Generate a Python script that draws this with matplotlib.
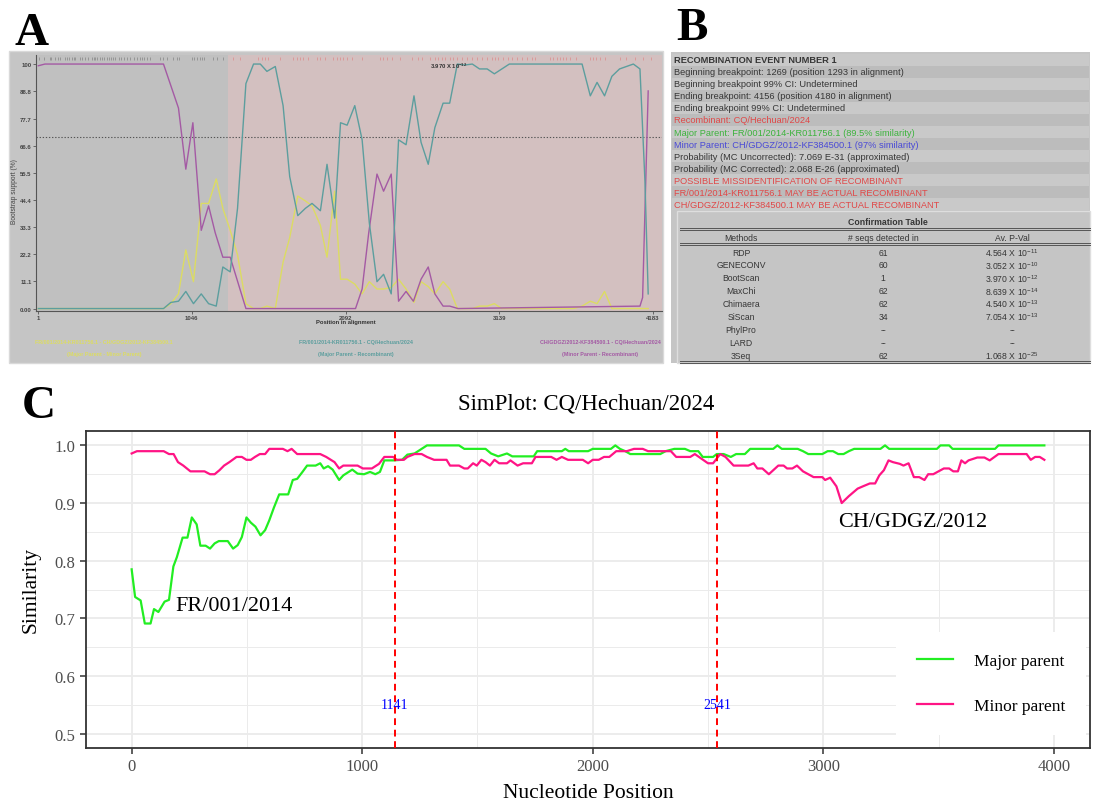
import matplotlib
matplotlib.use('Agg')
import matplotlib.pyplot as plt
from matplotlib.patches import Rectangle
from matplotlib.ticker import MultipleLocator

W, H, DPI = 1093, 803, 100
SERIF = 'Liberation Serif'
SANS = 'Liberation Sans'
plt.rcParams['font.family'] = [SANS, 'DejaVu Sans']

# ── panel A: RDP bootscan ────────────────────────────────────────────────────
A_XTICKS = [1, 1046, 2092, 3139, 4183]
A_YTICKS = [0, 11.1, 22.2, 33.3, 44.4, 55.5, 66.6, 77.7, 88.8, 100]
A_YLABELS = ['0.00', '11.1', '22.2', '33.3', '44.4', '55.5', '66.6', '77.7', '88.8', '100']
A_EVENT_START = 1293
A_CUTOFF = 70

mp_pos = [1, 46, 853, 955, 1005, 1053, 1110, 1160, 1205, 1257,
          1307, 1414, 2160, 2205, 2250, 2306, 2351, 2403, 2453, 2504,
          2554, 2606, 2655, 2700, 2756, 2801, 2858, 4096, 4114, 4152]
mp_boot = [99.3, 100, 100, 82, 57, 76, 32, 42, 31, 21,
           21, 0, 0, 8, 31, 55, 48, 55, 3, 7,
           3, 12, 17, 6, 1, 1, 0, 1, 4.5, 89]

maj_pos = [1, 853, 903, 955, 1005, 1057, 1110, 1160, 1212, 1257,
           1307, 1357, 1414, 1466, 1512, 1557, 1614, 1667, 1712, 1767,
           1819, 1864, 1921, 1966, 2018, 2058, 2103, 2155, 2205, 2254,
           2306, 2351, 2403, 2453, 2504, 2558, 2606, 2655, 2700, 2756,
           2801, 2853, 2903, 2955, 3004, 3056, 3105, 3207, 3702, 3758,
           3804, 3855, 3905, 3957, 4051, 4096, 4130, 4152]
maj_boot = [0, 0, 2.5, 3, 7, 2, 6, 2, 1, 17,
            15, 41, 92, 100, 100, 97, 99, 83, 54, 38,
            41, 43, 40, 59, 37, 76, 75, 83, 69, 35,
            11, 14, 6, 69, 67, 87, 68, 59, 74, 84,
            84, 100, 99.6, 100, 98, 98, 96, 100, 100, 87,
            92.5, 87, 95, 98, 100, 98, 52, 6]

mm_pos = [1, 853, 903, 955, 1005, 1057, 1110, 1160, 1212, 1257,
          1307, 1357, 1414, 1466, 1512, 1557, 1614, 1667, 1712, 1767,
          1819, 1864, 1921, 1966, 2018, 2058, 2103, 2155, 2205, 2254,
          2306, 2351, 2403, 2453, 2504, 2558, 2606, 2655, 2700, 2756,
          2801, 2853, 2955, 3004, 3056, 3105, 3155, 3646, 3702, 3758,
          3804, 3855, 3905, 4152]
mm_boot = [0, 0, 2, 6, 24, 11, 43, 43, 53, 41,
           32, 22, 2, 0, 0, 1, 0, 19, 29, 46,
           44, 42, 34, 21, 48, 12, 12, 10, 6, 11,
           8, 8, 8.6, 12, 8, 2.5, 11, 9, 6, 11,
           8, 0, 0, 1, 1, 2, 0, 0, 1, 3,
           2, 7, 0, 0]

# informative sites marked along the top of the plot
sites_outside = [3, 37, 78, 87, 117, 132, 151, 185, 196, 207, 230, 241, 253, 287, 298,
                 321, 336, 366, 377, 389, 400, 423, 434, 450, 468, 479, 497, 509, 525,
                 547, 563, 581, 604, 627, 649, 672, 695, 706, 717, 740, 763, 831, 853,
                 876, 921, 944, 960, 1046, 1062, 1080, 1103, 1114, 1130, 1193, 1216, 1261]
sites_inside = [1329, 1374, 1499, 1521, 1544, 1567, 1646, 1737, 1760, 1782, 1805, 1839,
                1895, 1918, 1952, 2009, 2032, 2054, 2077, 2100, 2133, 2201, 2327, 2349,
                2372, 2406, 2463, 2542, 2587, 2610, 2667, 2701, 2723, 2746, 2769, 2803,
                2825, 2848, 2882, 2916, 2950, 2984, 3018, 3052, 3086, 3109, 3131, 3165,
                3199, 3222, 3256, 3290, 3324, 3358, 3381, 3483, 3505, 3528, 3551, 3573,
                3596, 3619, 3664, 3755, 3777, 3800, 3823, 3857, 3959, 4004, 4061, 4117, 4174]

# ── panel B: event report ────────────────────────────────────────────────────
b_lines = ['RECOMBINATION EVENT NUMBER 1',
           'Beginning breakpoint: 1269 (position 1293 in alignment)',
           'Beginning breakpoint 99% CI: Undetermined',
           'Ending breakpoint: 4156 (position 4180 in alignment)',
           'Ending breakpoint 99% CI: Undetermined',
           'Recombinant: CQ/Hechuan/2024',
           'Major Parent: FR/001/2014-KR011756.1 (89.5% similarity)',
           'Minor Parent: CH/GDGZ/2012-KF384500.1 (97% similarity)',
           'Probability (MC Uncorrected): 7.069 E-31 (approximated)',
           'Probability (MC Corrected): 2.068 E-26 (approximated)',
           'POSSIBLE MISSIDENTIFICATION OF RECOMBINANT',
           'FR/001/2014-KR011756.1 MAY BE ACTUAL RECOMBINANT',
           'CH/GDGZ/2012-KF384500.1 MAY BE ACTUAL RECOMBINANT']
b_kinds = ['head', 'plain', 'plain', 'plain', 'plain', 'red', 'major', 'minor',
           'plain', 'plain', 'red', 'red', 'red']

methods = ['RDP', 'GENECONV', 'BootScan', 'MaxChi', 'Chimaera', 'SiScan', 'PhylPro', 'LARD', '3Seq']
n_seqs = ['61', '60', '1', '62', '62', '34', '--', '--', '62']
p_mant = ['4.564', '3.052', '3.970', '8.639', '4.540', '7.054', None, None, '1.068']
p_exp = ['-11', '-10', '-12', '-14', '-13', '-13', None, None, '-25']

# ── panel C: SimPlot ─────────────────────────────────────────────────────────
major_pos = [0, 15, 39, 57, 82, 97, 116, 143, 162, 181,
             196, 221, 242, 261, 282, 298, 321, 340, 360, 378,
             417, 440, 460, 478, 498, 517, 537, 559, 579, 597,
             617, 640, 679, 699, 718, 741, 761, 798, 818, 833,
             852, 872, 900, 918, 957, 980, 1008, 1034, 1057, 1077,
             1096, 1134, 1173, 1196, 1227, 1281, 1420, 1443, 1535, 1559,
             1590, 1628, 1651, 1744, 1759, 1866, 1881, 1896, 1980, 2000,
             2079, 2098, 2118, 2141, 2163, 2293, 2316, 2354, 2400, 2423,
             2458, 2477, 2522, 2538, 2568, 2599, 2622, 2660, 2683, 2783,
             2801, 2820, 2889, 2912, 2935, 2996, 3019, 3042, 3065, 3088,
             3111, 3134, 3248, 3268, 3286, 3493, 3508, 3546, 3561, 3745,
             3760, 3959]
major_sim = [0.785, 0.737, 0.731, 0.691, 0.691, 0.716, 0.711, 0.729, 0.732, 0.790,
             0.806, 0.840, 0.840, 0.875, 0.863, 0.826, 0.826, 0.821, 0.830, 0.834,
             0.834, 0.821, 0.827, 0.841, 0.875, 0.866, 0.859, 0.844, 0.853, 0.870,
             0.892, 0.915, 0.915, 0.940, 0.942, 0.954, 0.965, 0.965, 0.969, 0.960,
             0.964, 0.958, 0.940, 0.948, 0.958, 0.951, 0.950, 0.954, 0.950, 0.954,
             0.974, 0.974, 0.975, 0.984, 0.986, 1.000, 1.000, 0.994, 0.994, 0.986,
             0.981, 0.986, 0.981, 0.981, 0.990, 0.990, 0.994, 0.990, 0.990, 0.994,
             0.994, 1.000, 0.994, 0.990, 0.985, 0.985, 0.990, 0.994, 0.994, 0.990,
             0.990, 0.980, 0.980, 0.985, 0.985, 0.980, 0.985, 0.985, 0.994, 0.994,
             1.000, 0.994, 0.994, 0.990, 0.985, 0.985, 0.990, 0.990, 0.985, 0.985,
             0.990, 0.994, 0.994, 1.000, 0.994, 0.994, 1.000, 1.000, 0.994, 0.994,
             1.000, 1.000]

minor_pos = [0, 23, 139, 162, 182, 201, 224, 255, 316, 340,
             360, 381, 401, 424, 455, 478, 498, 517, 535, 556,
             579, 597, 656, 676, 694, 718, 818, 844, 880, 900,
             918, 980, 1003, 1042, 1073, 1096, 1134, 1150, 1181, 1196,
             1227, 1258, 1281, 1312, 1366, 1381, 1420, 1443, 1458, 1481,
             1497, 1517, 1535, 1554, 1574, 1594, 1628, 1643, 1674, 1698,
             1736, 1752, 1820, 1843, 1866, 1893, 1957, 1980, 2000, 2026,
             2049, 2072, 2102, 2148, 2179, 2217, 2240, 2339, 2362, 2423,
             2443, 2500, 2522, 2553, 2576, 2611, 2675, 2698, 2714, 2736,
             2764, 2805, 2828, 2843, 2866, 2886, 2912, 2935, 2958, 2996,
             3008, 3030, 3057, 3080, 3111, 3149, 3172, 3202, 3225, 3243,
             3263, 3283, 3302, 3332, 3348, 3370, 3393, 3416, 3439, 3455,
             3477, 3500, 3523, 3546, 3564, 3584, 3599, 3615, 3630, 3668,
             3699, 3722, 3760, 3882, 3900, 3919, 3939, 3959]
minor_sim = [0.986, 0.990, 0.990, 0.985, 0.985, 0.971, 0.965, 0.955, 0.955, 0.950,
             0.950, 0.957, 0.965, 0.971, 0.980, 0.980, 0.975, 0.975, 0.980, 0.985,
             0.985, 0.994, 0.994, 0.990, 0.994, 0.985, 0.985, 0.980, 0.971, 0.960,
             0.965, 0.965, 0.960, 0.960, 0.968, 0.980, 0.980, 0.975, 0.975, 0.980,
             0.985, 0.985, 0.980, 0.975, 0.975, 0.965, 0.965, 0.960, 0.960, 0.969,
             0.965, 0.975, 0.971, 0.965, 0.975, 0.969, 0.969, 0.974, 0.965, 0.969,
             0.969, 0.980, 0.980, 0.975, 0.980, 0.975, 0.975, 0.969, 0.975, 0.975,
             0.980, 0.980, 0.990, 0.990, 0.994, 0.994, 0.990, 0.990, 0.980, 0.980,
             0.985, 0.969, 0.969, 0.985, 0.980, 0.965, 0.965, 0.969, 0.960, 0.960,
             0.950, 0.965, 0.965, 0.960, 0.960, 0.965, 0.955, 0.950, 0.945, 0.945,
             0.940, 0.944, 0.929, 0.900, 0.912, 0.925, 0.929, 0.934, 0.934, 0.948,
             0.957, 0.974, 0.971, 0.968, 0.965, 0.969, 0.945, 0.945, 0.940, 0.950,
             0.950, 0.955, 0.960, 0.960, 0.955, 0.955, 0.974, 0.969, 0.974, 0.979,
             0.979, 0.974, 0.985, 0.985, 0.975, 0.980, 0.980, 0.975]

breakpoints = [1141, 2541]

# ── palette ──────────────────────────────────────────────────────────────────
A_PURPLE = '#a45aa4'
A_TEAL = '#5c9e9e'
A_YELLOW = '#dcdc62'
B_DARK = '#363636'
B_COLORS = {'head': B_DARK, 'plain': B_DARK, 'red': '#e04848',
            'major': '#3db33d', 'minor': '#4a4ad6'}
C_GREEN = '#22ee22'
C_PINK = '#ff1485'


def frac(x0, y0, x1, y1):
    """pixel box (top-left origin) -> figure fraction rect"""
    return [x0 / W, 1 - y1 / H, (x1 - x0) / W, (y1 - y0) / H]


fig = plt.figure(figsize=(W / DPI, H / DPI), dpi=DPI, facecolor='white')
bg = fig.add_axes([0, 0, 1, 1], zorder=-10)
bg.set_xlim(0, W)
bg.set_ylim(H, 0)
bg.axis('off')

for letter, x, y in [('A', 32, 45), ('B', 692, 40), ('C', 39, 418)]:
    bg.text(x, y, letter, fontsize=34, fontweight='bold', family=SERIF,
            ha='center', va='baseline')

# ── A ────────────────────────────────────────────────────────────────────────
bg.add_patch(Rectangle((9, 52), 654, 312, facecolor='#c5c5c5', edgecolor='#d9d9d9', lw=1))

axA = fig.add_axes(frac(36, 56, 662, 312))
axA.set_facecolor('#c0c0c0')
axA.set_xlim(-14.7, 4246)
axA.set_ylim(-1.0, 103.7)
axA.axvspan(A_EVENT_START, 4246, color='#d3c0c0', lw=0, zorder=0)
axA.axhline(A_CUTOFF, color='#555555', lw=0.8, ls=(0, (1.2, 1.6)), zorder=1)
axA.vlines(sites_outside, 101.6, 102.9, color='#858585', lw=0.5, zorder=2)
axA.vlines(sites_inside, 101.6, 102.9, color='#dc8a8a', lw=0.5, zorder=2)
axA.plot(mm_pos, mm_boot, color=A_YELLOW, lw=1.0, zorder=3)
axA.plot(mp_pos, mp_boot, color=A_PURPLE, lw=1.0, zorder=4)
axA.plot(maj_pos, maj_boot, color=A_TEAL, lw=1.0, zorder=5)
axA.text(2667, 99.6, '3.970 X 10$^{\\mathregular{-12}}$', fontsize=4.2, fontweight='bold',
         color='#333333', ha='left', va='center', zorder=6)
for s in ['top', 'right']:
    axA.spines[s].set_visible(False)
for s in ['left', 'bottom']:
    axA.spines[s].set_color('#555555')
    axA.spines[s].set_linewidth(0.8)
axA.set_xticks(A_XTICKS)
axA.set_xticklabels([str(t) for t in A_XTICKS])
axA.set_yticks(A_YTICKS)
axA.set_yticklabels(A_YLABELS)
axA.tick_params(labelsize=4.3, length=2, width=0.6, color='#555555',
                labelcolor='#444444', pad=1.2)
for lab in axA.get_xticklabels() + axA.get_yticklabels():
    lab.set_fontweight('bold')

bg.text(15, 192, 'Bootstrap support (%)', rotation=90, fontsize=4.8, color='#444444',
        ha='center', va='center')
bg.text(346, 323, 'Position in alignment', fontsize=4.2, fontweight='bold', color='#333333',
        ha='center', va='center')
a_legend = [(104, 'FR/001/2014-KR011756.1 - CH/GDGZ/2012-KF384500.1',
             '(Major Parent - Minor Parent)', A_YELLOW),
            (356, 'FR/001/2014-KR011756.1 - CQ/Hechuan/2024',
             '(Major Parent - Recombinant)', A_TEAL),
            (600, 'CH/GDGZ/2012-KF384500.1 - CQ/Hechuan/2024',
             '(Minor Parent - Recombinant)', A_PURPLE)]
for x, l1, l2, c in a_legend:
    bg.text(x, 343, l1, fontsize=3.9, fontweight='bold', color=c, ha='center', va='center')
    bg.text(x, 355, l2, fontsize=3.9, fontweight='bold', color=c, ha='center', va='center')

# ── B ────────────────────────────────────────────────────────────────────────
bg.add_patch(Rectangle((671, 53), 419, 311, facecolor='#c5c5c5', edgecolor='none'))
row0, row_h = 60.7, 12.05
for i, (txt, kind) in enumerate(zip(b_lines, b_kinds)):
    y = row0 + i * row_h
    band = '#c9c9c9' if i % 2 == 0 else '#bcbcbc'
    bg.add_patch(Rectangle((672, y - row_h / 2), 417, row_h, facecolor=band, edgecolor='none'))
    bg.text(674, y, txt, fontsize=6.7, color=B_COLORS[kind],
            fontweight='bold' if kind == 'head' else 'normal', ha='left', va='center')

bg.add_patch(Rectangle((677, 212), 413, 152, facecolor='#c5c5c5', edgecolor='#dedede', lw=1))
bg.text(888, 222.5, 'Confirmation Table', fontsize=6.3, fontweight='bold', color=B_DARK,
        ha='center', va='center')
for y in (228.5, 230.5, 243.5, 245.5, 361.5, 363.5):
    bg.plot([680, 1090], [y, y], color='#555555', lw=0.7)
col_x = [741, 883, 1012]
for x, hdr in zip(col_x, ['Methods', '# seqs detected in', 'Av. P-Val']):
    bg.text(x, 238.5, hdr, fontsize=6.2, color=B_DARK, ha='center', va='center')
for i, m in enumerate(methods):
    y = 253 + i * 12.9
    bg.text(col_x[0], y, m, fontsize=6.2, color=B_DARK, ha='center', va='center')
    bg.text(col_x[1], y, n_seqs[i], fontsize=6.2, color=B_DARK, ha='center', va='center')
    pv = '--' if p_mant[i] is None else p_mant[i] + ' X 10$^{\\mathregular{' + p_exp[i] + '}}$'
    bg.text(col_x[2], y, pv, fontsize=6.2, color=B_DARK, ha='center', va='center')

# ── C ────────────────────────────────────────────────────────────────────────
axC = fig.add_axes(frac(86, 432, 1090, 749))
axC.set_xlim(-198, 4157)
axC.set_ylim(0.475, 1.025)
axC.xaxis.set_major_locator(MultipleLocator(1000))
axC.xaxis.set_minor_locator(MultipleLocator(500))
axC.yaxis.set_major_locator(MultipleLocator(0.1))
axC.yaxis.set_minor_locator(MultipleLocator(0.05))
axC.grid(which='major', color='#ebebeb', lw=1.3)
axC.grid(which='minor', color='#ebebeb', lw=0.7)
axC.set_axisbelow(True)
axC.plot(major_pos, major_sim, color=C_GREEN, lw=1.6, label='Major parent', zorder=3)
axC.plot(minor_pos, minor_sim, color=C_PINK, lw=1.6, label='Minor parent', zorder=3)
for bp in breakpoints:
    axC.axvline(bp, color='#ff0000', lw=1.4, ls=(0, (3.5, 2.4)), zorder=4)
    axC.text(bp, 0.55, str(bp), color='#0000ff', fontsize=10, family=SERIF,
             ha='center', va='center', zorder=5)
axC.text(188, 0.722, 'FR/001/2014', fontsize=16, family=SERIF, ha='left', va='center')
axC.text(3064, 0.868, 'CH/GDGZ/2012', fontsize=16, family=SERIF, ha='left', va='center')
for s in axC.spines.values():
    s.set_color('#333333')
    s.set_linewidth(1.3)
axC.tick_params(which='major', length=4.5, width=1.1, color='#333333',
                labelcolor='#4d4d4d', labelsize=12, pad=3)
axC.tick_params(which='minor', length=0)
for lab in axC.get_xticklabels() + axC.get_yticklabels():
    lab.set_fontfamily(SERIF)

leg = axC.legend(loc='center', bbox_to_anchor=(0.9014, 0.2036), frameon=True,
                 facecolor='white', edgecolor='none', framealpha=1, fancybox=False,
                 prop={'family': SERIF, 'size': 12.5}, handlelength=2.1,
                 handletextpad=1.2, labelspacing=1.65, borderpad=1.2)
leg.set_zorder(6)

bg.text(586, 410, 'SimPlot: CQ/Hechuan/2024', fontsize=16.4, family=SERIF,
        ha='center', va='baseline')
bg.text(588, 798, 'Nucleotide Position', fontsize=15.5, family=SERIF,
        ha='center', va='baseline')
bg.text(31, 590, 'Similarity', fontsize=15.5, family=SERIF, rotation=90,
        ha='center', va='center')

fig.savefig('out.png', dpi=DPI, facecolor='white')
